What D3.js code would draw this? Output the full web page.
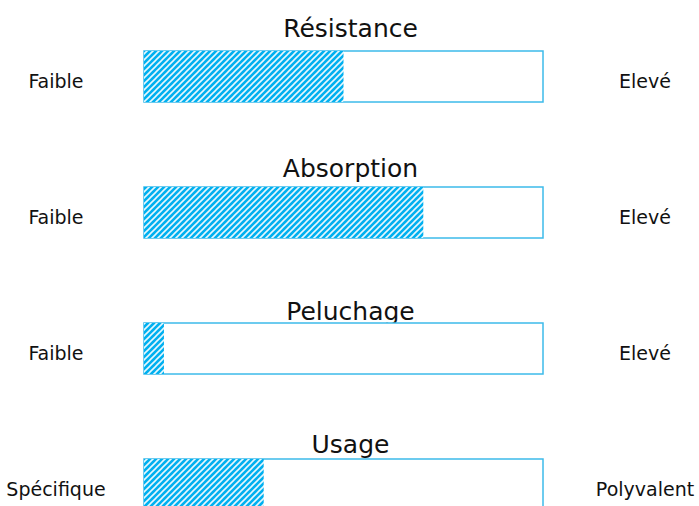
<!DOCTYPE html>
<html>
<head>
<meta charset="utf-8">
<script src="https://cdn.jsdelivr.net/npm/d3@7"></script>
<style>
  body { margin:0; background:#fff; }
  svg { display:block; font-family:"DejaVu Sans", sans-serif; }
</style>
</head>
<body>
<div id="chart"></div>
<script>
var categories = ["Résistance", "Absorption", "Peluchage", "Usage"]
var values = [5, 7, 0.5, 3]
var lowLabels = ["Faible", "Faible", "Faible", "Spécifique"]
var highLabels = ["Elevé", "Elevé", "Elevé", "Polyvalent"]
var maxValue = 10

// gap between title baseline and bar top, per row
var titleGap = [14, 10, 3, 6]

initChart()
function initChart(){
  var width = 699
  var height = 506
  var barLeft = 144, barRight = 543
  var barH = 51
  var step = 136

  var svg = d3.select("#chart").append("svg")
    .attr("width", width)
    .attr("height", height)

  var defs = svg.append("defs")
  var pat = defs.append("pattern")
    .attr("id", "hatch")
    .attr("patternUnits", "userSpaceOnUse")
    .attr("width", 6).attr("height", 6)
  pat.append("rect").attr("width", 6).attr("height", 6).attr("fill", "#00b0f0")
  pat.append("path")
    .attr("d", "M-1,1 L1,-1 M0,6 L6,0 M5,7 L7,5")
    .attr("stroke", "#e6f7fd").attr("stroke-width", 1.6)

  var x = d3.scaleLinear().domain([0, maxValue]).range([barLeft, barRight])
  var po = (1 - barH/step)/2
  var y = d3.scaleBand()
    .domain(categories)
    .range([51 - step*po, 51 - step*po + step*categories.length])
    .paddingInner(1 - barH/step)
    .paddingOuter(po)

  var rows = svg.append("g").selectAll("g")
    .data(categories)
    .enter()
    .append("g")

  rows.append("text")
    .text(function(d){ return d })
    .attr("x", (barLeft + barRight)/2 + 7)
    .attr("y", function(d,i){ return y(d) - titleGap[i] })
    .attr("text-anchor", "middle")
    .attr("font-size", 25)
    .attr("fill", "#111")

  rows.append("rect")
    .attr("x", x(0))
    .attr("y", function(d){ return y(d) })
    .attr("width", x(maxValue) - x(0))
    .attr("height", y.bandwidth())
    .attr("fill", "#fff")
    .attr("stroke", "#3dbbea")
    .attr("stroke-width", 1.5)

  rows.append("rect")
    .attr("x", x(0))
    .attr("y", function(d){ return y(d) })
    .attr("width", function(d,i){ return x(values[i]) - x(0) })
    .attr("height", y.bandwidth())
    .attr("fill", "url(#hatch)")

  rows.append("text")
    .text(function(d,i){ return lowLabels[i] })
    .attr("x", 56)
    .attr("y", function(d){ return y(d) + 37 })
    .attr("text-anchor", "middle")
    .attr("font-size", 19)
    .attr("fill", "#111")

  rows.append("text")
    .text(function(d,i){ return highLabels[i] })
    .attr("x", 645)
    .attr("y", function(d){ return y(d) + 37 })
    .attr("text-anchor", "middle")
    .attr("font-size", 19)
    .attr("fill", "#111")
}
</script>
</body>
</html>
